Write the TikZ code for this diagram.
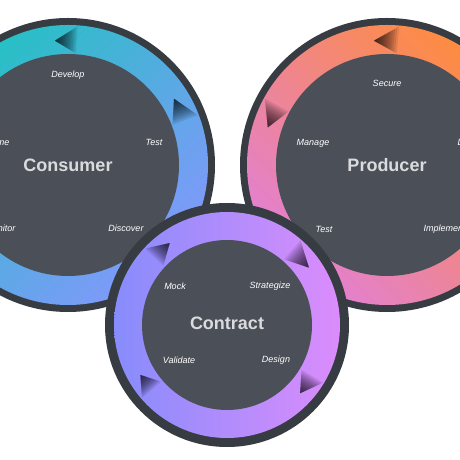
\documentclass[tikz,border=0pt]{standalone}
\usepackage{fontspec}
\setmainfont{Liberation Sans}
\usetikzlibrary{calc}

\definecolor{rimdark}{RGB}{55,60,67}
\definecolor{discdark}{RGB}{75,80,88}
\definecolor{conteal}{RGB}{38,192,196}
\definecolor{consky}{RGB}{78,172,240}
\definecolor{conblue}{RGB}{130,152,252}
\definecolor{proorange}{RGB}{254,140,62}
\definecolor{procoral}{RGB}{252,104,112}
\definecolor{propink}{RGB}{226,128,212}
\definecolor{ctrblue}{RGB}{135,140,252}
\definecolor{ctrlilac}{RGB}{220,140,252}
\definecolor{titlegray}{RGB}{218,219,222}

\tikzset{
  cycletitle/.style={font=\bfseries\fontsize{18}{20}\selectfont, text=titlegray},
  stagelabel/.style={font=\itshape\fontsize{9}{10}\selectfont, text=white},
  shadelayer/.style={fill=black, fill opacity=0.09},
}

\begin{document}
\begin{tikzpicture}[x=1pt, y=1pt]
	\useasboundingbox (0,0) rectangle (460,460);
	\clip (0,0) rectangle (460,460);
	
	\coordinate (c1) at (68,295);
	\coordinate (c2) at (387,295);
	\coordinate (c3) at (227,135);
	
	\fill[rimdark] (c1) circle (147);
	\shade[top color=conteal, middle color=consky, bottom color=conblue, shading angle=45] (c1) circle (140);
	\fill[discdark] (c1) circle (111);
	
	\fill[rimdark] (c2) circle (147);
	\shade[top color=proorange, middle color=procoral, bottom color=propink, shading angle=-45] (c2) circle (140);
	\fill[discdark] (c2) circle (111);
	
	\fill[rimdark] (c3) circle (122);
	\shade[left color=ctrblue, right color=ctrlilac] (c3) circle (113);
	\fill[discdark] (c3) circle (85);
	
	\foreach \c/\b/\t/\ri/\ro/\rt in {c1/86/96/112/139/125, c1/21/32/112/139/125,
		c2/85/96/112/139/125, c2/151.5/162.5/112/139/125,
		c3/137/125/87/112/100, c3/49/35/87/112/100, c3/220.6/210/87/112/100, c3/-31/-43/87/112/100} {
		\coordinate (tip) at ($(\c)+(\t:\rt)$);
		\coordinate (bin) at ($(\c)+(\b:\ri)$);
		\coordinate (bout) at ($(\c)+(\b:\ro)$);
		\foreach \s in {1,0.92,...,0.1}
			\fill[shadelayer] (tip) -- ($(tip)!\s!(bin)$) -- ($(tip)!\s!(bout)$) -- cycle;
	}
	
	\node[cycletitle] (consumer) at (c1) {Consumer};
	\node[stagelabel] (develop) at (68,385) {Develop};
	\node[stagelabel] (ctest) at (154,318) {Test};
	\node[stagelabel] (discover) at (126,232) {Discover};
	\node[stagelabel, anchor=east] (monitor) at (19,232) {Monitor};
	\node[stagelabel, anchor=east] (consume) at (13,318) {Consume};
	
	\node[cycletitle] (producer) at (c2) {Producer};
	\node[stagelabel] (secure) at (387,377) {Secure};
	\node[stagelabel] (manage) at (313,317) {Manage};
	\node[stagelabel, anchor=west] (deploy) at (454,317) {Deploy};
	\node[stagelabel, anchor=west] (implement) at (420,231) {Implement};
	\node[stagelabel] (ptest) at (324,231) {Test};
	
	\node[cycletitle] (contract) at (227,137) {Contract};
	\node[stagelabel] (mock) at (175,174) {Mock};
	\node[stagelabel] (strategize) at (270,174) {Strategize};
	\node[stagelabel] (validate) at (179,100) {Validate};
	\node[stagelabel] (design) at (276,100) {Design};
\end{tikzpicture}
\end{document}
